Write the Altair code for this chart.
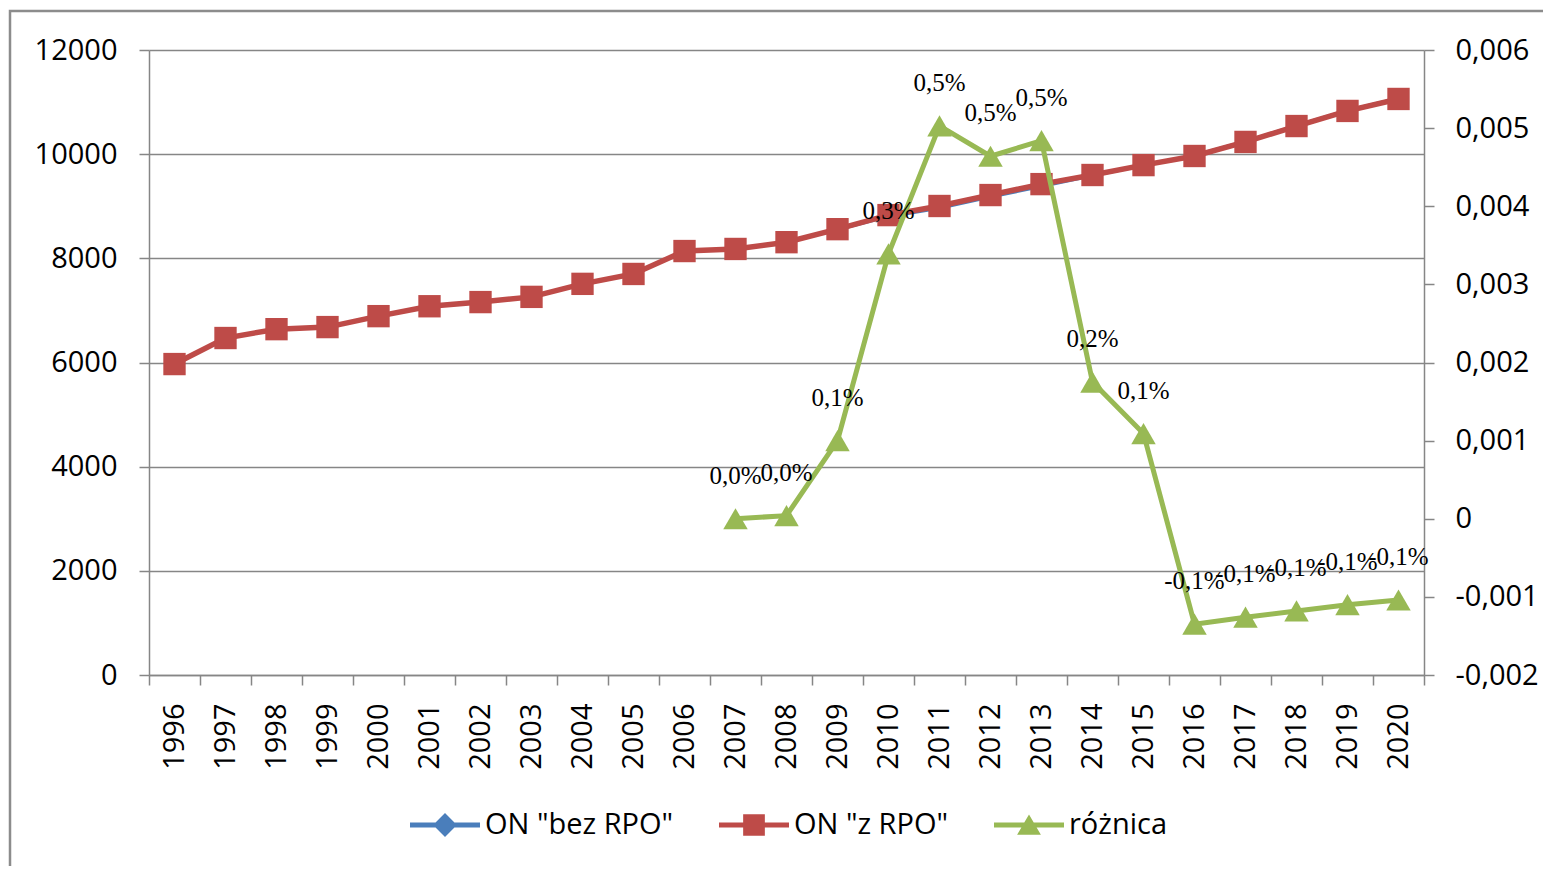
import altair as alt
import pandas as pd

years = [str(y) for y in range(1996, 2021)]
on_z_rpo = [5970, 6470, 6640, 6680, 6890, 7080, 7160, 7260, 7510, 7700, 8140, 8180, 8310,
            8560, 8830, 9005, 9215, 9425, 9600, 9790, 9965, 10235, 10540, 10830, 11060]
on_bez_rpo = [5970, 6470, 6640, 6680, 6890, 7080, 7160, 7260, 7510, 7700, 8140, 8180, 8310,
              8550, 8800, 8960, 9175, 9380, 9585, 9780, 9978, 10248, 10552, 10842, 11072]
diff_years = years[11:]
roznica = [0.0, 0.00004, 0.001, 0.00339, 0.00503, 0.00464, 0.00484, 0.00175, 0.00109,
           -0.00135, -0.00126, -0.00118, -0.0011, -0.00104]
roznica_labels = ["0,0%", "0,0%", "0,1%", "0,3%", "0,5%", "0,5%", "0,5%", "0,2%", "0,1%",
                  "-0,1%", "-0,1%", "-0,1%", "-0,1%", "-0,1%"]
series_names = ['ON "bez RPO"', 'ON "z RPO"', "różnica"]
series_colors = ["#4A7EBB", "#BE4B48", "#98B954"]
left_ticks = [0, 2000, 4000, 6000, 8000, 10000, 12000]
right_ticks = [-0.002, -0.001, 0, 0.001, 0.002, 0.003, 0.004, 0.005, 0.006]

GRAY = "#868686"
FONT = "Open Sans"
FS = 29
W, H = 1275, 625

left_df = pd.DataFrame({"year": years, "bez": on_bez_rpo, "z": on_z_rpo})
right_df = pd.DataFrame({"year": diff_years, "diff": roznica, "label": roznica_labels})
legend_df = pd.DataFrame({"series": series_names})
frame_df = pd.DataFrame({"a": [0]})

x_enc = alt.X("year:O", scale=alt.Scale(type="band", domain=years, paddingInner=0, paddingOuter=0),
              axis=alt.Axis(title=None, labelAngle=-90, tickBand="extent", tickSize=10,
                            labelPadding=18, grid=False, domainColor=GRAY, tickColor=GRAY,
                            domainWidth=1.5, tickWidth=1.5, labelFont=FONT, labelFontSize=FS,
                            labelColor="black"))

y_left_scale = alt.Scale(domain=[0, 12000], nice=False)
y_left_axis = alt.Axis(title=None, values=left_ticks, format="d", grid=True, gridColor=GRAY,
                       gridWidth=1.5, domainColor=GRAY, tickColor=GRAY, domainWidth=1.5,
                       tickWidth=1.5, tickSize=10, labelPadding=22, labelFont=FONT,
                       labelFontSize=FS, labelColor="black")

base_l = alt.Chart(left_df)
blue_line = base_l.mark_line(color=series_colors[0], strokeWidth=3).encode(
    x=x_enc, y=alt.Y("bez:Q", scale=y_left_scale, axis=y_left_axis))
blue_pts = base_l.mark_point(color=series_colors[0], shape="diamond", filled=True, size=200, opacity=1).encode(
    x=x_enc, y=alt.Y("bez:Q", scale=y_left_scale, axis=y_left_axis))
red_line = base_l.mark_line(color=series_colors[1], strokeWidth=5.5).encode(
    x=x_enc, y=alt.Y("z:Q", scale=y_left_scale, axis=y_left_axis))
red_pts = base_l.mark_point(color=series_colors[1], shape="square", filled=True, size=500, opacity=1).encode(
    x=x_enc, y=alt.Y("z:Q", scale=y_left_scale, axis=y_left_axis))

frame = alt.Chart(frame_df).mark_rect(filled=False, stroke="#8C8C8C", strokeWidth=2.5).encode(
    x=alt.value(-139), x2=alt.value(W + 200), y=alt.value(-39), y2=alt.value(H + 300))

paths = [
    "M-1,-0.07L-0.27,-0.07L0,-0.34L0.27,-0.07L1,-0.07L1,0.07L0.27,0.07L0,0.34L-0.27,0.07L-1,0.07Z",
    "M-1,-0.07L-0.31,-0.07L-0.31,-0.31L0.31,-0.31L0.31,-0.07L1,-0.07L1,0.07L0.31,0.07L0.31,0.31L-0.31,0.31L-0.31,0.07L-1,0.07Z",
    "M-1,-0.07L-0.135,-0.07L0,-0.3L0.135,-0.07L1,-0.07L1,0.07L0.217,0.07L0.34,0.28L-0.34,0.28L-0.217,0.07L-1,0.07Z",
]
legend_layer = alt.Chart(legend_df).transform_filter("false").mark_point(filled=True, opacity=1).encode(
    x=x_enc,
    y=alt.Y("v:Q", scale=y_left_scale, axis=y_left_axis),
    color=alt.Color("series:N", scale=alt.Scale(domain=series_names, range=series_colors),
                    legend=alt.Legend(title=None, orient="none", legendX=261, legendY=740,
                                      direction="horizontal")),
    shape=alt.Shape("series:N", scale=alt.Scale(domain=series_names, range=paths),
                    legend=alt.Legend(title=None, orient="none", legendX=261, legendY=740,
                                      direction="horizontal")),
)

left = alt.layer(frame, blue_line, blue_pts, red_line, red_pts, legend_layer)

y_right_scale = alt.Scale(domain=[-0.002, 0.006], nice=False)
y_right_axis = alt.Axis(title=None, orient="right", values=right_ticks, grid=False,
                        domainColor=GRAY, tickColor=GRAY, domainWidth=1.5, tickWidth=1.5,
                        tickSize=10, labelPadding=21, labelFont=FONT, labelFontSize=FS,
                        labelColor="black",
                        labelExpr="datum.value == 0 ? '0' : (datum.value < 0 ? '-' : '') + replace(format(abs(datum.value), '.3f'), '.', ',')")

base_r = alt.Chart(right_df)
green_line = base_r.mark_line(color=series_colors[2], strokeWidth=5).encode(
    x=x_enc, y=alt.Y("diff:Q", scale=y_right_scale, axis=y_right_axis))
green_pts = base_r.mark_point(color=series_colors[2], shape="triangle-up", filled=True, size=600, opacity=1).encode(
    x=x_enc, y=alt.Y("diff:Q", scale=y_right_scale, axis=y_right_axis))
green_txt = base_r.mark_text(dy=-43, font="Liberation Serif", fontSize=25, color="black").encode(
    x=x_enc, y=alt.Y("diff:Q", scale=y_right_scale, axis=y_right_axis), text="label:N")

right = alt.layer(green_line, green_pts, green_txt)

chart = alt.layer(left, right).resolve_scale(y="independent").properties(
    width=W, height=H,
    padding={"left": 141, "top": 42, "right": 119, "bottom": 191},
    autosize=alt.AutoSizeParams(type="none"),
).configure_view(stroke=None).configure_legend(
    symbolSize=4900, symbolStrokeWidth=0, labelFont=FONT, labelFontSize=FS, labelColor="black",
    labelOffset=5, columnPadding=45, labelLimit=0,
)

chart.save("out.html", embed_options={"renderer": "svg", "actions": False})
